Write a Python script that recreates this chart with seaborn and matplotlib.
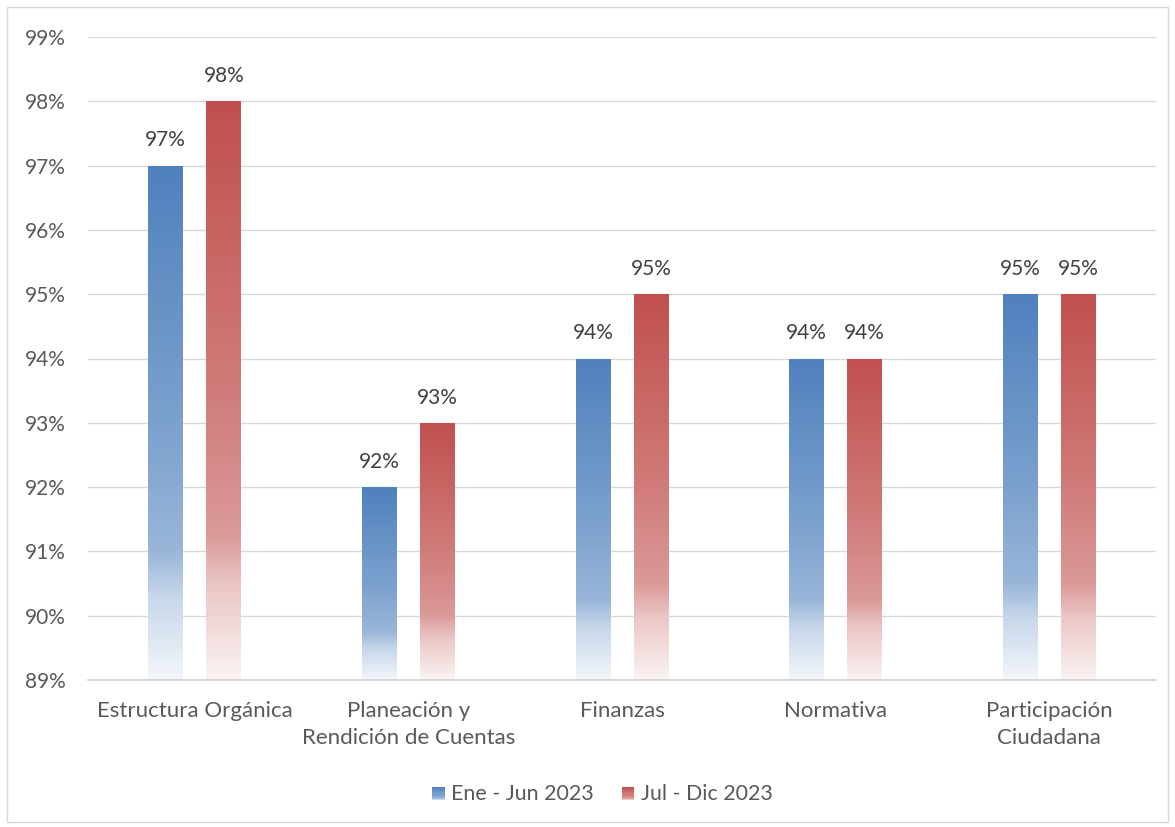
import numpy as np
import pandas as pd
import matplotlib
matplotlib.use("Agg")
import matplotlib.pyplot as plt
import seaborn as sns
from matplotlib.colors import LinearSegmentedColormap, to_rgb
from matplotlib.patches import Rectangle
from matplotlib.legend_handler import HandlerBase
from matplotlib.ticker import PercentFormatter, MultipleLocator

# data
categorias = ["Estructura Orgánica", "Planeación y\nRendición de Cuentas", "Finanzas",
              "Normativa", "Participación\nCiudadana"]
ene_jun = [97, 92, 94, 94, 95]
jul_dic = [98, 93, 95, 94, 95]
series = ["Ene - Jun 2023", "Jul - Dic 2023"]

df = pd.DataFrame({
    "categoria": categorias * 2,
    "periodo": [series[0]] * len(categorias) + [series[1]] * len(categorias),
    "valor": ene_jun + jul_dic,
})

colores = {series[0]: "#4F81BD", series[1]: "#C0504D"}
txt_color = "#595959"
fs = 15

sns.set_style("white")
plt.rcParams["font.family"] = ["Lato", "DejaVu Sans"]


def gradiente(color):
    c = np.array(to_rgb(color))
    w = np.ones(3)
    # top -> bottom: solid colour fading to almost white near the base
    stops = [(0.0, c), (0.5, c * 0.75 + w * 0.25), (0.75, c * 0.58 + w * 0.42),
             (0.84, c * 0.32 + w * 0.68), (1.0, c * 0.07 + w * 0.93)]
    return LinearSegmentedColormap.from_list("g", [(p, tuple(v)) for p, v in stops])


fig = plt.figure(figsize=(11.75, 8.27), dpi=100)
ax = fig.add_axes([88 / 1175, 1 - 680 / 827, (1156 - 88) / 1175, (680 - 37) / 827])

sns.barplot(data=df, x="categoria", y="valor", hue="periodo", palette=colores,
            width=0.544, gap=0.4, ax=ax, legend=False, order=categorias, hue_order=series)

ymin, ymax = 89, 99
ax.set_ylim(ymin, ymax)
ax.set_xlim(-0.5, len(categorias) - 0.5)

# replace flat fill by a vertical gradient clipped to every bar
grad = np.linspace(0, 1, 256).reshape(-1, 1)
for cont, s in zip(ax.containers, series):
    cmap = gradiente(colores[s])
    for bar in cont:
        x0 = bar.get_x()
        w = bar.get_width()
        top = bar.get_height()
        im = ax.imshow(grad, cmap=cmap, aspect="auto", extent=(x0, x0 + w, ymin, top),
                       origin="upper", zorder=2, interpolation="bilinear")
        im.set_clip_path(bar)
        bar.set_facecolor("none")
        bar.set_edgecolor("none")
        ax.annotate(f"{top:.0f}%", (x0 + w / 2, top), xytext=(0, 11),
                    textcoords="offset points", ha="center", va="bottom",
                    fontsize=fs, color="#404040")

ax.set_xlim(-0.5, len(categorias) - 0.5)
ax.set_ylim(ymin, ymax)
ax.yaxis.set_major_locator(MultipleLocator(1))
ax.yaxis.set_major_formatter(PercentFormatter(decimals=0))
ax.grid(axis="y", color="#D9D9D9", linewidth=1)
ax.set_axisbelow(True)
sns.despine(ax=ax, left=True, top=True, right=True)
ax.spines["bottom"].set_color("#D0D0D0")
ax.spines["bottom"].set_linewidth(1.2)
ax.tick_params(axis="both", length=0, labelsize=fs, labelcolor=txt_color)
ax.tick_params(axis="x", pad=15, labelsize=16)
ax.tick_params(axis="y", pad=16)
for lab in ax.get_xticklabels():
    lab.set_linespacing(1.45)
ax.set_xlabel("")
ax.set_ylabel("")


class HandlerGrad(HandlerBase):
    def __init__(self, color):
        super().__init__()
        self.cmap = gradiente(color)

    def create_artists(self, legend, orig_handle, xdescent, ydescent, width, height, fontsize, trans):
        n = 12
        side = height * 0.85
        x = xdescent * -1 + width - side
        arts = []
        for i in range(n):
            t = i / (n - 1)
            yy = -ydescent + side * (1 - (i + 1) / n)
            r = Rectangle((x, yy), side, side / n + 0.1, facecolor=self.cmap(t * 0.85),
                          edgecolor="none", transform=trans)
            arts.append(r)
        return arts


handles = [Rectangle((0, 0), 1, 1) for _ in series]
fig.legend(handles, series, loc="center", bbox_to_anchor=(600 / 1175, 1 - 794 / 827),
           ncol=2, frameon=False, fontsize=15.4, labelcolor=txt_color,
           handler_map={h: HandlerGrad(colores[s]) for h, s in zip(handles, series)},
           handlelength=0.8, handletextpad=0.3, columnspacing=1.1)

fig.patches.append(Rectangle((7 / 1175, 5 / 827), 1 - 14 / 1175, 1 - 12 / 827,
                             transform=fig.transFigure, fill=False,
                             edgecolor="#D9D9D9", linewidth=1))

fig.savefig("out.png", dpi=100)
